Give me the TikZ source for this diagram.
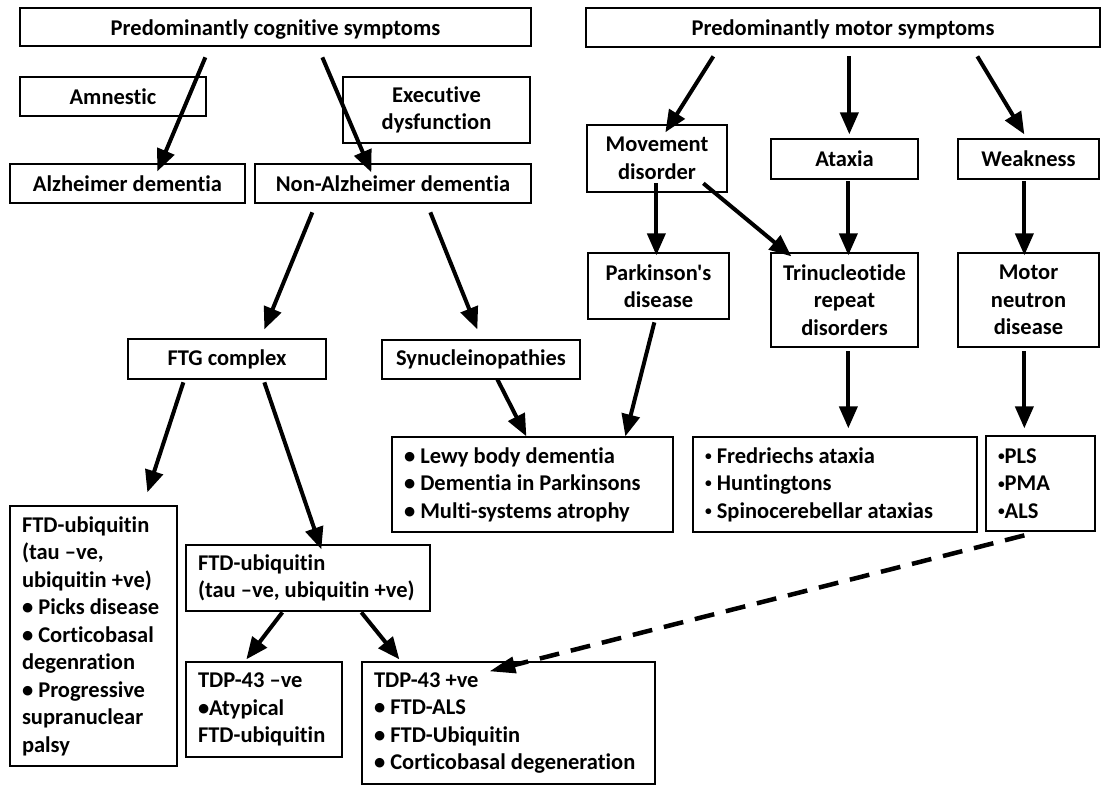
\documentclass[tikz,border=0pt]{standalone}
\usepackage{fontspec}
\setmainfont{Carlito}[Ligatures={TeXOff,CommonOff}]
\usepackage{graphicx}
\usetikzlibrary{arrows.meta}
\newcommand{\smb}{\raisebox{0.12em}{\scalebox{0.6}{•}}}
\begin{document}
\begin{tikzpicture}[x=1pt,y=-1pt,
  box/.style={draw, line width=1.3pt, inner sep=0pt, font=\bfseries\fontsize{22.5}{27.5}\selectfont, align=center},
  lbox/.style={box, align=flush left, inner xsep=12pt},
  hdr/.style={box, text height=16pt, text depth=0pt},
  arr/.style={line width=4pt, -{Triangle[length=22pt,width=18pt]}},
  darr/.style={line width=4.5pt, dash pattern=on 20pt off 12pt, -{Triangle[length=26pt,width=16pt]}}]
\useasboundingbox (0,0) rectangle (1101,785);
% top level
\node[hdr, minimum width=511pt, minimum height=38pt] (cog) at (275.5,27) {Predominantly cognitive symptoms};
\node[hdr, minimum width=514pt, minimum height=39pt] (mot) at (843,27.5) {Predominantly motor symptoms};
\node[box, minimum width=186pt, minimum height=39pt] (amn) at (113,96.5) {Amnestic};
\node[box, minimum width=187pt, minimum height=66pt] (exe) at (436.5,110) {Executive\\dysfunction};
\node[box, minimum width=235pt, minimum height=39pt] (alz) at (127.5,183.5) {Alzheimer dementia};
\node[box, minimum width=276pt, minimum height=39pt] (nonalz) at (393,183.5) {Non-Alzheimer dementia};
\node[box, minimum width=140pt, minimum height=67pt] (mov) at (657,158.5) {Movement\\disorder};
\node[box, minimum width=147pt, minimum height=40pt] (atx) at (844.5,159) {Ataxia};
\node[box, minimum width=141pt, minimum height=40pt] (wk) at (1028.5,159) {Weakness};
\node[box, minimum width=141pt, minimum height=66pt] (park) at (658.5,286) {Parkinson's\\disease};
\node[box, minimum width=147pt, minimum height=94pt] (tri) at (844.5,300) {Trinucleotide\\repeat\\disorders};
\node[box, minimum width=141pt, minimum height=94pt] (mnd) at (1028.5,300) {Motor\\neutron\\disease};
\node[box, minimum width=198pt, minimum height=40pt] (ftg) at (227,359) {FTG complex};
\node[box, minimum width=198pt, minimum height=39pt] (syn) at (481,359.5) {Synucleinopathies};
% lists
\node[lbox, text width=257pt, minimum height=95pt] (lewy) at (532.5,484.5) {• Lewy body dementia\\• Dementia in Parkinsons\\• Multi-systems atrophy};
\node[lbox, text width=260pt, minimum height=95pt] (fred) at (835,484.5) {\smb\ Fredriechs ataxia\\\smb\ Huntingtons\\\smb\ Spinocerebellar ataxias};
\node[lbox, text width=85pt, minimum height=95pt] (pls) at (1040.5,483.5) {\smb PLS\\\smb PMA\\\smb ALS};
\node[lbox, text width=143pt, minimum height=260pt] (ftdL) at (93.5,636) {FTD-ubiquitin\\(tau –ve,\\ubiquitin +ve)\\• Picks disease\\• Corticobasal\\degenration\\• Progressive\\supranuclear\\palsy};
\node[lbox, text width=220pt, minimum height=66pt] (ftdM) at (308,578) {FTD-ubiquitin\\(tau –ve, ubiquitin +ve)};
\node[lbox, text width=132pt, minimum height=95pt] (tdpN) at (264,709.5) {TDP-43 –ve\\•Atypical\\FTD-ubiquitin};
\node[lbox, text width=269pt, minimum height=122pt] (tdpP) at (508.5,723) {TDP-43 +ve\\• FTD-ALS\\• FTD-Ubiquitin\\• Corticobasal degeneration};
% arrows
\draw[arr] ([shift={(186,50)}]cog.north west) -- ([shift={(148,8)}]alz.north west);
\draw[arr] ([shift={(303,50)}]cog.north west) -- ([shift={(117,9)}]nonalz.north west);
\draw[arr] ([shift={(128,49)}]mot.north west) -- ([shift={(79,8)}]mov.north west);
\draw[arr] ([shift={(264,49)}]mot.north west) -- ([shift={(79,-4)}]atx.north west);
\draw[arr] ([shift={(392,49)}]mot.north west) -- ([shift={(67,-4)}]wk.north west);
\draw[arr] ([shift={(70,59)}]mov.north west) -- ([shift={(69,3)}]park.north west);
\draw[arr] ([shift={(117,59)}]mov.north west) -- ([shift={(21,4)}]tri.north west);
\draw[arr] ([shift={(78,43)}]atx.north west) -- ([shift={(78,3)}]tri.north west);
\draw[arr] ([shift={(67,43)}]wk.north west) -- ([shift={(67,3)}]mnd.north west);
\draw[arr] ([shift={(58,49)}]nonalz.north west) -- ([shift={(137,-9)}]ftg.north west);
\draw[arr] ([shift={(176,49)}]nonalz.north west) -- ([shift={(96,-10)}]syn.north west);
\draw[arr] ([shift={(56,44)}]ftg.north west) -- ([shift={(138,-13)}]ftdL.north west);
\draw[arr] ([shift={(137,44)}]ftg.north west) -- ([shift={(136,5)}]ftdM.north west);
\draw[arr] ([shift={(116,40)}]syn.north west) -- ([shift={(135,0)}]lewy.north west);
\draw[arr] ([shift={(67,70)}]park.north west) -- ([shift={(234,0)}]lewy.north west);
\draw[arr] ([shift={(78,99)}]tri.north west) -- ([shift={(156,-8)}]fred.north west);
\draw[arr] ([shift={(67,99)}]mnd.north west) -- ([shift={(39,-7)}]pls.north west);
\draw[arr] ([shift={(97,68)}]ftdM.north west) -- ([shift={(61,-2)}]tdpN.north west);
\draw[arr] ([shift={(176,68)}]ftdM.north west) -- ([shift={(38,-2)}]tdpP.north west);
\draw[darr] ([shift={(39,100)}]pls.north west) -- ([shift={(128,10)}]tdpP.north west);
\end{tikzpicture}
\end{document}
